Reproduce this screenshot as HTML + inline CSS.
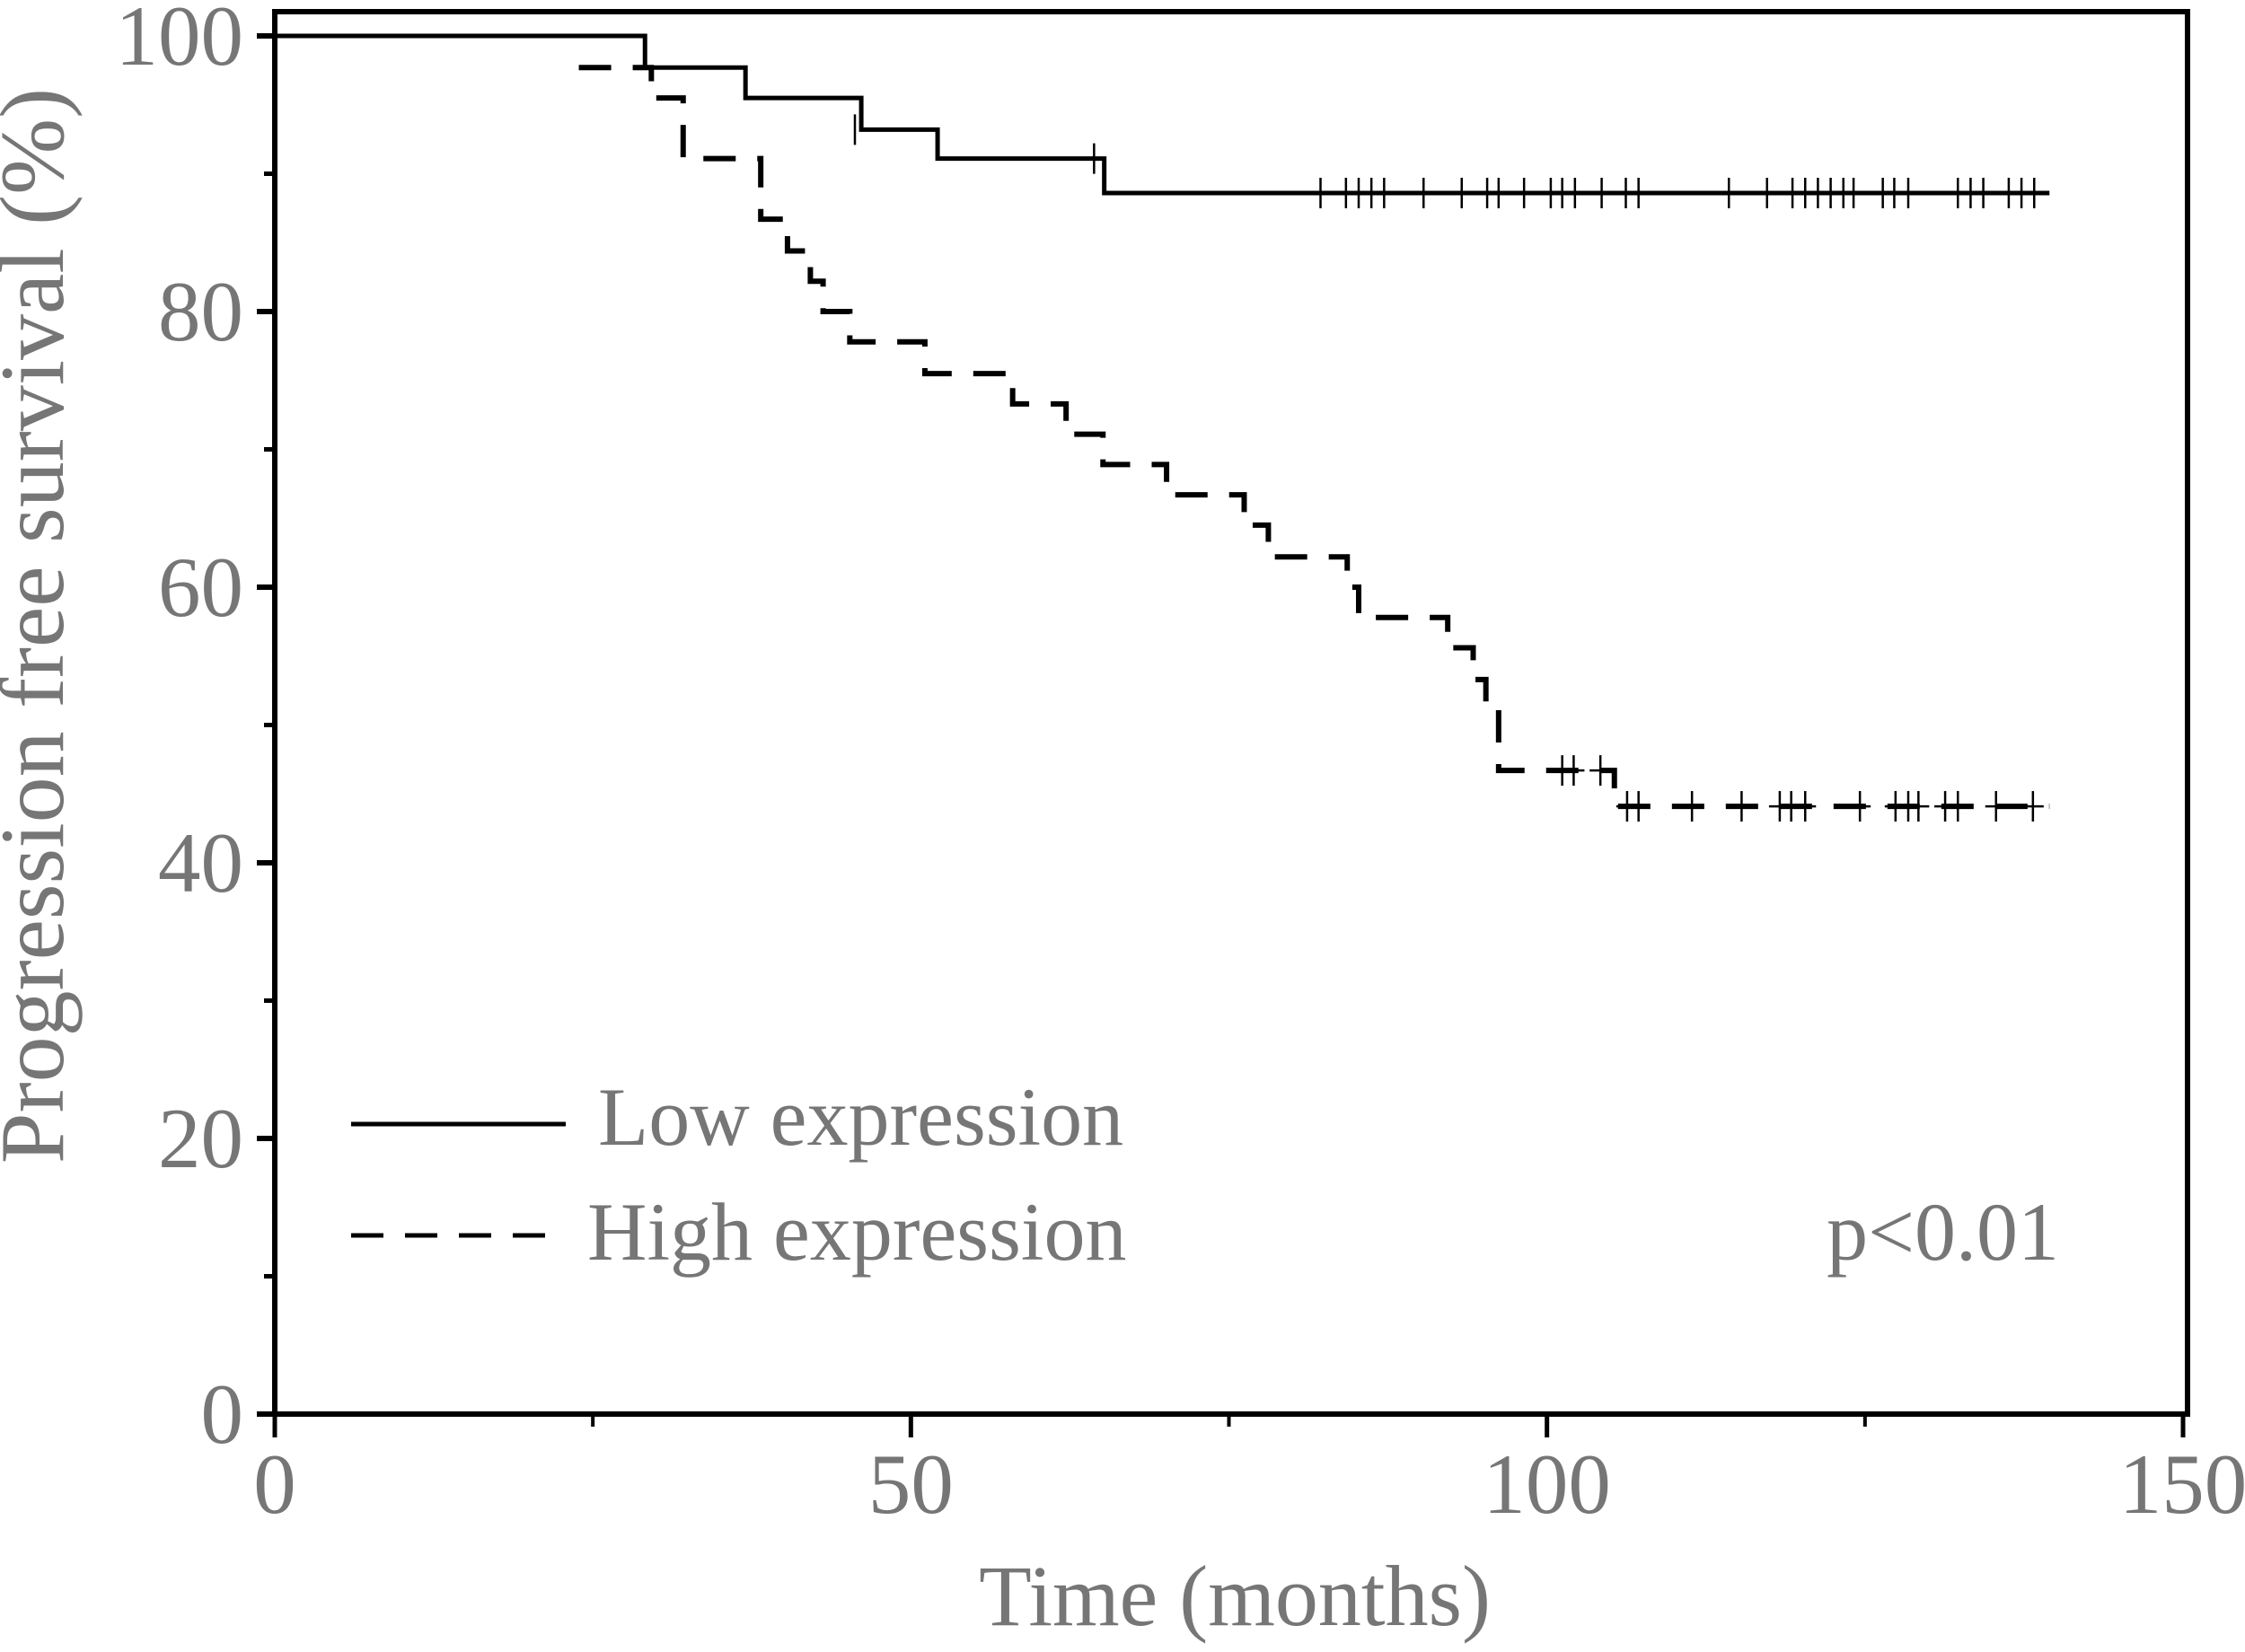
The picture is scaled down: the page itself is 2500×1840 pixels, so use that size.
<!DOCTYPE html>
<html><head><meta charset="utf-8"><style>
html,body{margin:0;padding:0;background:#fff;}
svg{display:block;}
text{font-family:"Liberation Serif",serif;fill:#767676;}
</style></head><body>
<svg id="chart" width="2500" height="1840" viewBox="0 0 2500 1840" xmlns="http://www.w3.org/2000/svg">
<g id="axes"></g>
<g id="series"></g>
<text x="0" y="0" font-size="102" text-anchor="middle" transform="translate(70,697) rotate(-90)">Progression free survival (%)</text>
<text x="1375" y="1810" font-size="96" text-anchor="middle">Time (months)</text>
<g>
<line x1="391" y1="1252" x2="630" y2="1252" stroke="#000" stroke-width="5"/>
<text x="666" y="1275" font-size="92">Low expression</text>
<line x1="391" y1="1376" x2="615" y2="1376" stroke="#000" stroke-width="5" stroke-dasharray="36,24"/>
<text x="654" y="1403" font-size="92">High expression</text>
</g>
<text x="2293" y="1403" font-size="92" text-anchor="end">p&lt;0.01</text>
</svg>
<script>
const xTicks=[0,50,100,150];
const xMinor=[25,75,125];
const yTicks=[0,20,40,60,80,100];
const yMinor=[10,30,50,70,90];
const lowTimes=[0,29.1,37.0,46.1,52.1,65.2,139.5];
const lowSurv=[100,97.7,95.5,93.2,91.1,88.6,88.6];
const lowCensorT=[45.6,64.4,82.2,84.2,85.2,86.2,87.2,90.3,93.3,95.3,96.2,98.2,100.3,101.2,102.2,104.3,106.2,107.2,114.3,117.3,119.3,120.3,121.3,122.3,123.3,124.1,126.4,127.3,128.4,132.3,133.3,134.3,136.3,137.3,138.3];
const lowCensorS=[93.2,91.1];
const highTimes=[23.9,29.6,32.1,38.2,40.3,42.1,43.1,45.2,51.1,58.0,62.2,65.1,70.1,76.2,78.1,84.3,85.2,92.2,94.2,95.2,96.2,105.3,139.5];
const highSurv=[97.7,95.5,91.1,86.7,84.4,82.2,80.0,77.8,75.5,73.3,71.1,68.9,66.7,64.5,62.2,60.0,57.8,55.6,53.3,51.1,46.7,44.1,44.1];
const highCensorT=[101.2,102.1,104.2,106.3,107.2,111.4,115.3,118.3,119.2,120.3,124.6,127.4,128.4,129.2,131.3,132.3,135.3,138.2];

const NS='http://www.w3.org/2000/svg';
const X=t=>306+t*(2431-306)/150;
const Y=s=>1575-s*(1575-40)/100;
function mk(tag,attrs,parent){const e=document.createElementNS(NS,tag);for(const k in attrs)e.setAttribute(k,attrs[k]);parent.appendChild(e);return e;}
const axes=document.getElementById('axes');
const series=document.getElementById('series');
let f=mk('path',{d:`M${X(0)},${Y(0)} V13 H2436 V${Y(0)} Z`,fill:'none',stroke:'#000','stroke-width':6},axes);


yTicks.forEach(v=>{
  const l=mk('line',{x1:X(0)-20,x2:X(0),y1:Y(v),y2:Y(v),stroke:'#000','stroke-width':6},axes);
  
  
  const t=mk('text',{x:271,y:Y(v)+32,'font-size':95,'text-anchor':'end'},axes);
  t.textContent=v;
  
  
});
yMinor.forEach(v=>{
  const l=mk('line',{x1:X(0)-12,x2:X(0),y1:Y(v),y2:Y(v),stroke:'#000','stroke-width':5},axes);
  
  
});
xTicks.forEach(v=>{
  const l=mk('line',{x1:X(v),x2:X(v),y1:Y(0),y2:Y(0)+26,stroke:'#000','stroke-width':5},axes);
  
  
  const t=mk('text',{x:X(v),y:1685,'font-size':95,'text-anchor':'middle'},axes);
  t.textContent=v;
  
  
});
xMinor.forEach(v=>{
  const l=mk('line',{x1:X(v),x2:X(v),y1:Y(0),y2:Y(0)+14,stroke:'#000','stroke-width':4},axes);
  
  
});
function stepPath(ts,ss){let d=`M${X(ts[0])},${Y(ss[0])}`;for(let i=1;i<ts.length;i++){d+=` H${X(ts[i])} V${Y(ss[i])}`;}return d;}
function survAt(ts,ss,t){let s=ss[0];for(let i=0;i<ts.length;i++){if(ts[i]<=t)s=ss[i];}return s;}
const low=mk('path',{d:stepPath(lowTimes,lowSurv),fill:'none',stroke:'#000','stroke-width':5},series);


const high=mk('path',{d:stepPath(highTimes,highSurv),fill:'none',stroke:'#000','stroke-width':6,'stroke-dasharray':'36,24'},series);


lowCensorT.forEach((t,i)=>{
  const s=i<lowCensorS.length?lowCensorS[i]:survAt(lowTimes,lowSurv,t);
  const l=mk('line',{x1:X(t),x2:X(t),y1:Y(s)-17,y2:Y(s)+17,stroke:'#000','stroke-width':2.5},series);
  
  
});
highCensorT.forEach(t=>{
  const s=survAt(highTimes,highSurv,t);
  const l=mk('line',{x1:X(t),x2:X(t),y1:Y(s)-17,y2:Y(s)+17,stroke:'#000','stroke-width':2.5},series);
  
  
  const h=mk('line',{x1:X(t)-12,x2:X(t)+12,y1:Y(s),y2:Y(s),stroke:'#000','stroke-width':2.5},series);
  
  
});
</script>
</body></html>
